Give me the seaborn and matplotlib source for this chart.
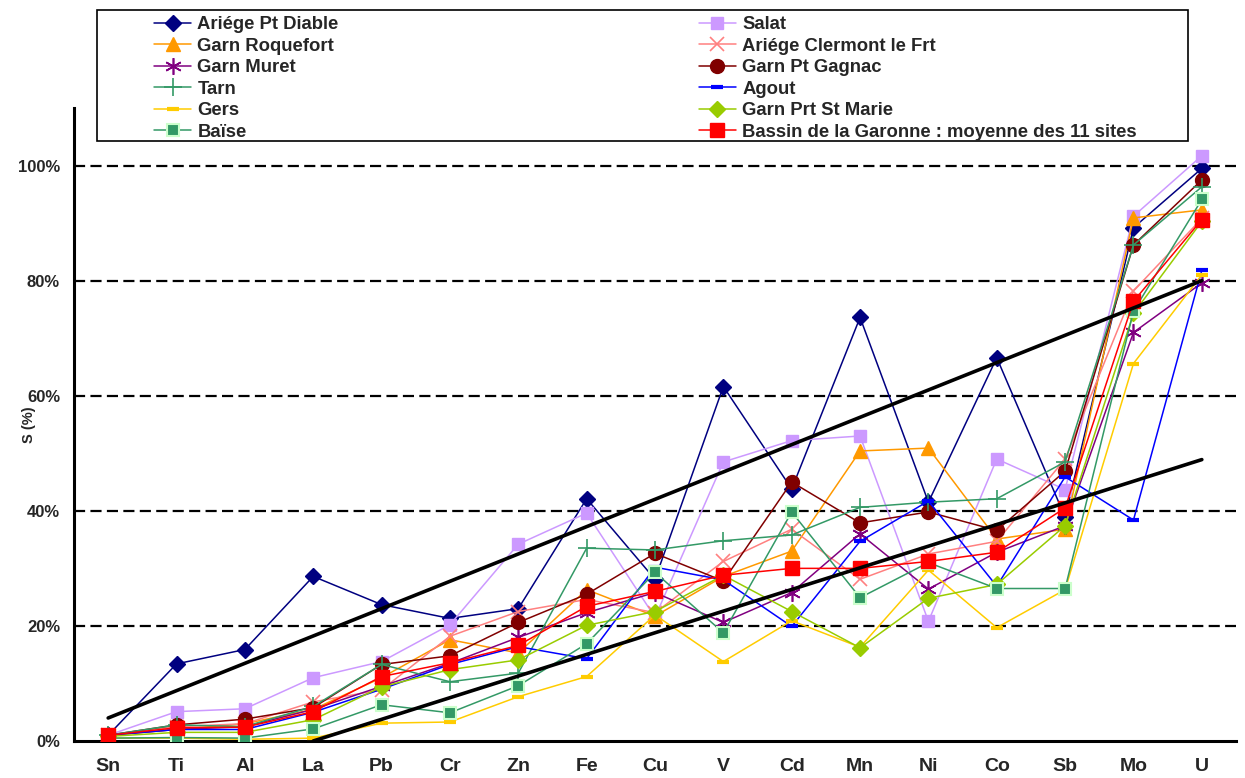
import matplotlib
matplotlib.use("Agg")
import matplotlib.pyplot as plt
import matplotlib.patches as mpatches
from matplotlib.ticker import FuncFormatter, FixedLocator
import seaborn as sns
import numpy as np

# elements (x axis)
elements = ["Sn", "Ti", "Al", "La", "Pb", "Cr", "Zn", "Fe", "Cu", "V",
            "Cd", "Mn", "Ni", "Co", "Sb", "Mo", "U"]

# S (%) per site
pt_diable = [1.0, 13.4, 15.9, 28.6, 23.7, 21.3, 23.0, 42.1, 28.1, 61.6,
             43.8, 73.6, 41.5, 66.6, 38.9, 89.2, 99.5]
salat = [1.0, 5.1, 5.6, 11.0, 13.8, 20.2, 34.2, 39.6, 21.5, 48.5,
         52.2, 53.0, 20.8, 49.0, 43.7, 91.2, 101.7]
roquefort = [1.0, 2.0, 3.0, 5.5, 11.0, 17.6, 15.3, 26.3, 21.7, 28.6,
             33.0, 50.4, 50.9, 35.1, 36.8, 90.9, 92.3]
clermont = [1.0, 2.5, 3.0, 6.8, 8.9, 18.2, 22.5, 24.6, 22.3, 31.2,
            36.8, 28.1, 32.5, 34.7, 49.0, 78.2, 90.8]
muret = [1.0, 2.0, 2.5, 5.5, 9.5, 13.5, 18.0, 22.3, 25.8, 20.6,
         25.8, 36.0, 26.4, 32.8, 37.4, 71.0, 79.6]
pt_gagnac = [1.0, 2.8, 3.8, 5.8, 13.3, 14.8, 20.6, 25.5, 32.6, 27.8,
             45.0, 37.9, 39.8, 36.6, 46.9, 86.2, 97.5]
tarn = [1.0, 2.8, 2.5, 6.0, 13.3, 10.3, 11.8, 33.5, 33.2, 34.8,
        35.8, 40.6, 41.5, 42.1, 48.5, 86.2, 96.3]
agout = [1.0, 2.0, 2.0, 5.0, 9.0, 13.3, 16.4, 14.3, 30.2, 28.0,
         19.9, 34.7, 41.7, 26.9, 45.9, 38.4, 81.8]
gers = [0.5, 0.5, 0.3, 0.5, 3.1, 3.3, 7.7, 11.2, 21.9, 13.8,
        20.9, 16.3, 29.7, 19.7, 26.3, 65.6, 81.0]
prt_st_marie = [0.8, 1.5, 1.5, 3.7, 9.4, 12.4, 14.1, 20.1, 22.5, 28.8,
                22.5, 16.2, 24.8, 27.2, 37.4, 74.3, 90.3]
baise = [0.5, 0.6, 0.5, 2.1, 6.3, 4.9, 9.6, 16.9, 29.3, 18.8,
         39.8, 24.9, 31.0, 26.5, 26.5, 74.7, 94.1]
moyenne = [1.0, 2.3, 2.4, 5.1, 11.2, 13.6, 16.6, 23.4, 26.0, 28.8,
           30.0, 30.0, 31.2, 32.8, 40.5, 76.4, 90.6]

# the two black guide lines (element index, S %)
upper_x = [0, 16]
upper_y = [4.0, 80.0]
lower_x = [3, 16]
lower_y = [0.0, 48.9]

series = [
    ("Ariége Pt Diable", pt_diable, "#000080", "D", 8, "#000080", 1),
    ("Salat", salat, "#CC99FF", "s", 9, "#CC99FF", 1),
    ("Garn Roquefort", roquefort, "#FF9900", "^", 10, "#FF9900", 1),
    ("Ariége Clermont le Frt", clermont, "#FF8080", "x", 10, "#FF8080", 1.2),
    ("Garn Muret", muret, "#800080", (6, 2, 0), 12, "#800080", 1.2),
    ("Garn Pt Gagnac", pt_gagnac, "#800000", "o", 10, "#800000", 1),
    ("Tarn", tarn, "#339966", "+", 13, "#339966", 1.2),
    ("Agout", agout, "#0000FF", "_", 9, "#0000FF", 3),
    ("Gers", gers, "#FFCC00", "_", 9, "#FFCC00", 3),
    ("Garn Prt St Marie", prt_st_marie, "#99CC00", "D", 8, "#99CC00", 1),
    ("Baïse", baise, "#339966", "s", 8, "#CCFFCC", 1.5),
    ("Bassin de la Garonne : moyenne des 11 sites", moyenne, "#FF0000", "s", 10, "#FF0000", 1),
]

sns.set_style("white")
plt.rcParams["font.family"] = ["Liberation Sans", "DejaVu Sans"]
plt.rcParams["font.weight"] = "bold"

fig = plt.figure(figsize=(12.45, 7.78), dpi=100)
ax = fig.add_axes([74 / 1245, 1 - 741 / 778, (1236 - 74) / 1245, (741 - 108) / 778])

xpos = np.arange(len(elements))

for yv in [20, 40, 60, 80, 100]:
    ax.axhline(yv, color="black", lw=1.6, linestyle=(0, (5.0, 2.4)), zorder=1)

for name, vals, col, mk, ms, mec, mew in series:
    sns.lineplot(x=xpos, y=vals, ax=ax, color=col, marker=mk, markersize=ms,
                 markeredgecolor=mec, markeredgewidth=mew, linewidth=1.1,
                 label=name, zorder=3)

sns.lineplot(x=upper_x, y=upper_y, ax=ax, color="black", linewidth=2.6, zorder=4)
sns.lineplot(x=lower_x, y=lower_y, ax=ax, color="black", linewidth=2.6, zorder=4)

ax.set_xlim(-0.5, len(elements) - 0.5)
ax.set_ylim(0, 110)
ax.set_xticks(xpos)
ax.set_xticklabels(elements, fontsize=14, fontweight="bold")
ax.xaxis.set_minor_locator(FixedLocator(np.arange(-0.5, len(elements), 1.0)))
ax.tick_params(axis="x", which="major", length=0, pad=12)
ax.tick_params(axis="x", which="minor", length=6, width=1.5, direction="out", color="black")
ax.set_yticks([0, 20, 40, 60, 80, 100])
ax.yaxis.set_major_formatter(FuncFormatter(lambda v, p: f"{v:.0f}%"))
ax.tick_params(axis="y", length=6, width=1.5, direction="out", color="black",
               labelsize=12, pad=4)
for lab in ax.get_yticklabels():
    lab.set_fontweight("bold")
ax.set_ylabel("S (%)", fontsize=10.5, fontweight="bold")
ax.yaxis.set_label_coords((36 - 74) / 1162, 0.5)
ax.set_xlabel("")

for s in ["top", "right"]:
    ax.spines[s].set_visible(False)
for s in ["left", "bottom"]:
    ax.spines[s].set_color("black")
    ax.spines[s].set_linewidth(2.2)

# legend: row-major order in two columns, framed box on top of the plot
handles, labels = ax.get_legend_handles_labels()
order = list(range(0, 12, 2)) + list(range(1, 12, 2))
ax.get_legend().remove()
box = mpatches.Rectangle((97 / 1245, 1 - 141 / 778), (1188 - 97) / 1245, 131 / 778,
                         transform=fig.transFigure, facecolor="white",
                         edgecolor="black", linewidth=1.2, zorder=5)
fig.patches.append(box)
leg = fig.legend([handles[i] for i in order], [labels[i] for i in order],
                 loc="upper left", bbox_to_anchor=(143 / 1245, 1 - 5 / 778),
                 ncol=2, frameon=False, labelspacing=0.245,
                 handlelength=2.0, handletextpad=0.35, columnspacing=19.5,
                 borderpad=0.1, prop={"weight": "bold", "size": 13.3})
leg.set_zorder(6)

fig.savefig("out.png", dpi=100)
